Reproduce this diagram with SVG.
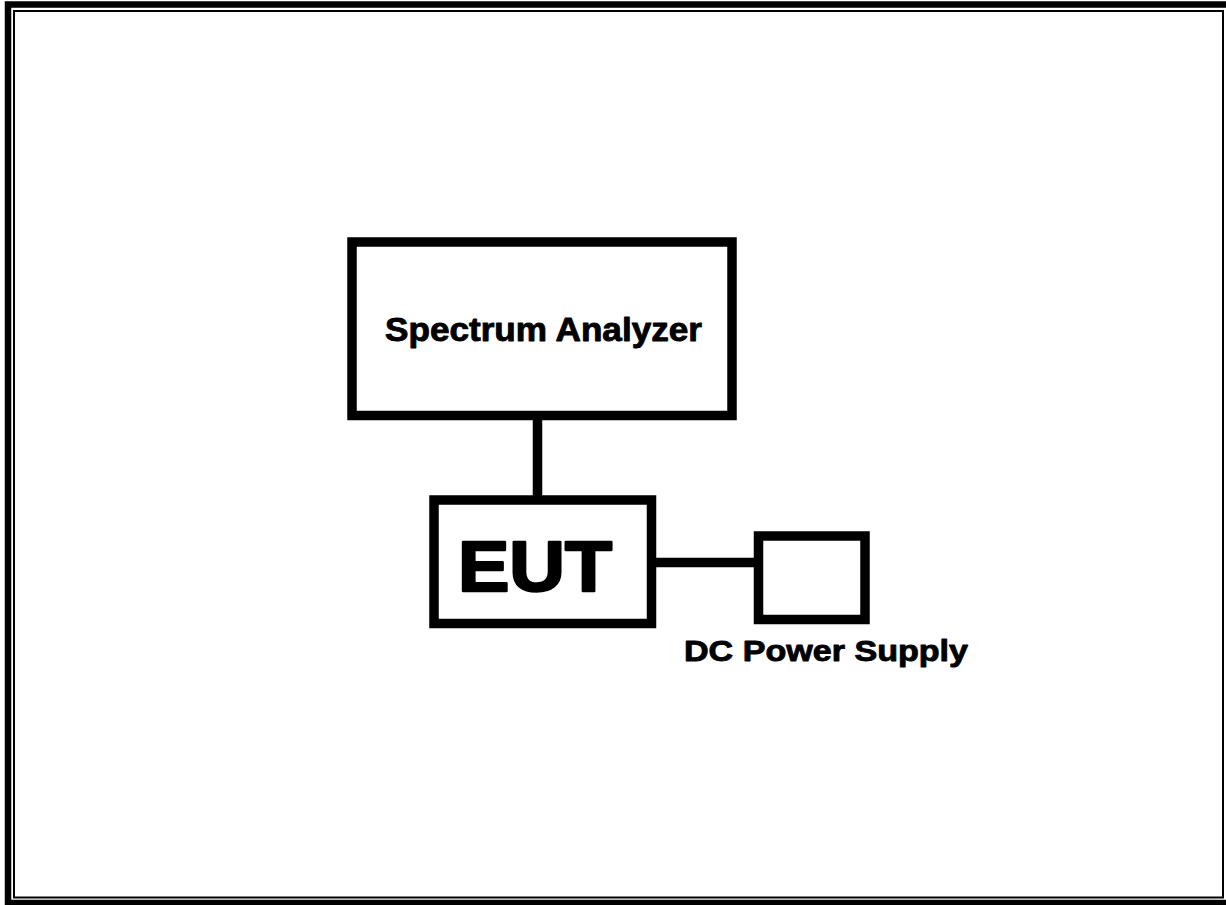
<svg xmlns="http://www.w3.org/2000/svg" width="1226" height="905" viewBox="0 0 1226 905">
<style>
.box{fill:#fff;stroke:#000;stroke-width:9.5}
.wire{stroke:#000;stroke-width:9.5;fill:none}
.lbl{font-family:"Liberation Sans",Arial,sans-serif;font-weight:bold;fill:#000;stroke:#000;stroke-width:0.9;stroke-linejoin:round}
</style>
<rect x="0" y="0" width="1226" height="905" fill="#fff"/>
<g id="frame">
<rect x="8" y="4.5" width="1232" height="898.5" fill="none" stroke="#000" stroke-width="6.5"/>
<rect x="14" y="11" width="1209" height="886.5" fill="none" stroke="#000" stroke-width="2"/>
</g>
<g id="connectors">
<line class="wire" x1="537.5" y1="415" x2="537.5" y2="500"/>
<line class="wire" x1="651" y1="562.5" x2="759" y2="562.5"/>
</g>
<g id="spectrum-analyzer">
<rect class="box" x="352" y="242" width="380" height="173.5" stroke-width="10"/>
<text class="lbl" x="385" y="341" font-size="33" textLength="317" lengthAdjust="spacingAndGlyphs">Spectrum Analyzer</text>
</g>
<g id="eut">
<rect class="box" x="434" y="500" width="217.5" height="123.5"/>
<text class="lbl" x="458" y="591" font-size="71" textLength="154" lengthAdjust="spacingAndGlyphs" style="stroke-width:2.5">EUT</text>
</g>
<g id="dc-power-supply">
<rect class="box" x="758.5" y="536" width="106.5" height="83.5"/>
<text class="lbl" x="684" y="661" font-size="30" textLength="284" lengthAdjust="spacingAndGlyphs">DC Power Supply</text>
</g>
</svg>
